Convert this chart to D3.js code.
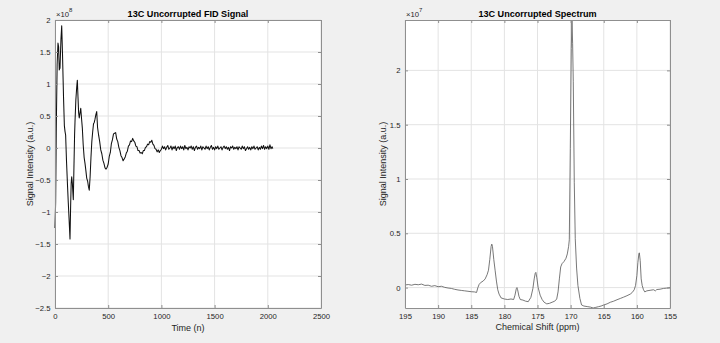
<!DOCTYPE html>
<html>
<head>
<meta charset="utf-8">
<script src="https://cdn.jsdelivr.net/npm/d3@7"></script>
<style>
  body { margin: 0; background: #f0f0f0; }
  svg { display: block; font-family: "Liberation Sans", Arial, sans-serif; }
</style>
</head>
<body>
<div id="chart"></div>
<script>
// FID signal, values in units of 1e8
// first part read point by point, the rest sampled every 10 points
var fidEarlyN = [0, 6, 12, 20, 28, 34, 40, 47, 56, 63, 70, 80, 88, 94, 100, 108, 118, 125, 132, 141,
  147, 152, 157, 163, 172, 178, 184, 188, 196, 204, 210, 216, 222, 228, 235, 242, 250, 257, 265, 274,
  282, 290, 298, 307, 314, 322, 330, 338, 346, 354, 362, 369, 376, 384, 392];
var fidEarlyV = [-1.25, -0.85, 0.3, 1.3, 1.64, 1.58, 1.22, 1.25, 1.7, 1.91, 1.5, 0.8, 0.35, 0.26, 0.2, -0.2, -0.6, -0.86, -1.1, -1.42,
  -0.9, -0.55, -0.45, -0.55, -0.81, -0.3, 0.2, 0.41, 0.75, 0.95, 1.06, 0.8, 0.55, 0.47, 0.55, 0.62, 0.45, 0.31, 0.05, -0.15,
  -0.24, -0.35, -0.47, -0.52, -0.6, -0.66, -0.45, -0.15, 0.1, 0.25, 0.38, 0.4, 0.45, 0.52, 0.57];
var fidTailStart = 400;
var fidTailStep = 10;
var fidTailV = [
  0.32, 0.20, 0.10, -0.03, -0.09, -0.19, -0.24, -0.31, -0.33, -0.30,
  -0.25, -0.13, -0.07, 0.07, 0.13, 0.22, 0.23, 0.24, 0.14, 0.10,
  0.01, -0.04, -0.12, -0.15, -0.20, -0.17, -0.14, -0.08, -0.05, 0.03,
  0.05, 0.11, 0.10, 0.15, 0.11, 0.09, 0.03, 0.02, -0.04, -0.04,
  -0.08, -0.07, -0.09, -0.04, -0.04, 0.01, 0.02, 0.06, 0.05, 0.10,
  0.09, 0.12, 0.06, 0.04, -0.01, -0.02, -0.06, -0.03, -0.07, -0.04,
  -0.02, 0.03, -0.01, 0.02, -0.03, 0.01, 0.04, -0.02, 0.00, 0.03,
  -0.03, 0.02, -0.01, 0.03, -0.04, 0.01, 0.02, -0.02, 0.03, -0.01,
  0.02, -0.03, 0.04, -0.01, 0.01, -0.03, 0.02, 0.00, 0.03, -0.02,
  0.02, -0.04, 0.01, 0.03, -0.02, 0.01, -0.01, 0.03, -0.03, 0.02,
  0.00, -0.02, 0.03, -0.01, 0.02, -0.03, 0.01, 0.04, -0.02, 0.01,
  -0.03, 0.02, -0.01, 0.03, -0.02, 0.00, 0.02, -0.03, 0.01, 0.03,
  -0.01, 0.02, -0.02, 0.01, -0.04, 0.02, 0.00, 0.03, -0.02, 0.01,
  -0.01, 0.02, -0.03, 0.02, 0.00, -0.02, 0.03, -0.01, 0.02, -0.04,
  -0.01, 0.02, -0.02, 0.01, -0.03, 0.02, -0.01, 0.03, -0.02, 0.00,
  0.02, -0.03, 0.01, -0.02, 0.03, -0.01, 0.04, -0.02, 0.02, -0.01,
  0.03, -0.02, 0.05, -0.01, 0.02];
var fidLastN = 2047;
var fidLastV = -0.01;

// spectrum, values in units of 1e7
var specPpm = [195.0, 194.5, 194.0, 193.5, 193.0, 192.5, 192.0, 191.5, 191.0, 190.5, 190.0, 189.5, 189.0, 188.5,
  188.0, 187.5, 187.0, 186.5, 186.0, 185.5, 185.0, 184.5, 184.2, 184.0, 183.8, 183.5, 183.2, 182.9, 182.6, 182.4,
  182.2, 182.0, 181.9, 181.8, 181.6, 181.4, 181.2, 181.0, 180.8, 180.5, 180.0, 179.5, 179.0, 178.6, 178.4, 178.2,
  178.1, 178.0, 177.8, 177.6, 177.2, 176.8, 176.4, 176.0, 175.7, 175.5, 175.35, 175.25, 175.1, 174.9, 174.6, 174.3,
  174.0, 173.6, 173.2, 172.8, 172.4, 172.1, 171.9, 171.7, 171.5, 171.3, 171.0, 170.7, 170.5, 170.3, 170.2, 170.05,
  169.9, 169.8, 169.7, 169.6, 169.45, 169.3, 169.1, 168.9, 168.6, 168.35, 168.0, 167.5, 167.0, 166.6, 166.2, 165.8,
  165.4, 165.0, 164.5, 164.0, 163.5, 163.0, 162.5, 162.0, 161.5, 161.0, 160.7, 160.4, 160.2, 160.0, 159.85, 159.7,
  159.63, 159.5, 159.35, 159.2, 159.0, 158.8, 158.5, 158.0, 157.5, 157.2, 157.0, 156.5, 156.0, 155.5, 155.0];
var specVal = [0.024, 0.028, 0.022, 0.030, 0.026, 0.032, 0.020, 0.022, 0.012, 0.018, 0.008, 0.012, 0.002, -0.004,
  -0.008, -0.016, -0.022, -0.026, -0.030, -0.034, -0.038, -0.040, -0.045, 0.000, 0.030, 0.050, 0.060, 0.080, 0.120, 0.160,
  0.260, 0.380, 0.400, 0.380, 0.260, 0.160, 0.060, -0.020, -0.060, -0.095, -0.105, -0.110, -0.105, -0.110, -0.070, -0.010,
  0.000, -0.020, -0.080, -0.110, -0.115, -0.125, -0.130, -0.090, -0.010, 0.080, 0.130, 0.140, 0.090, 0.000, -0.070, -0.110,
  -0.135, -0.150, -0.145, -0.135, -0.125, -0.105, -0.040, 0.080, 0.190, 0.220, 0.240, 0.270, 0.310, 0.380, 0.440, 1.280,
  2.200, 2.464, 2.250, 1.900, 0.970, 0.450, 0.180, 0.020, -0.100, -0.160, -0.170, -0.175, -0.180, -0.188, -0.182, -0.176,
  -0.170, -0.160, -0.150, -0.135, -0.125, -0.112, -0.100, -0.088, -0.075, -0.060, -0.045, -0.020, 0.020, 0.110, 0.230, 0.310,
  0.320, 0.250, 0.080, 0.020, -0.020, -0.040, -0.030, -0.025, -0.020, -0.030, -0.018, -0.015, -0.008, -0.005, 0.000];

var fidXTicks = [0, 500, 1000, 1500, 2000, 2500];
var fidYTicks = [-2.5, -2, -1.5, -1, -0.5, 0, 0.5, 1, 1.5, 2];
var specXTicks = [195, 190, 185, 180, 175, 170, 165, 160, 155];
var specYTicks = [0, 0.5, 1, 1.5, 2];

var width = 720, height = 343;
var svg = d3.select("#chart").append("svg")
  .attr("width", width)
  .attr("height", height);

svg.append("rect").attr("width", width).attr("height", height).attr("fill", "#f0f0f0");

function drawPanel(opt) {
  var x = d3.scaleLinear().domain(opt.xDomain).range([opt.left, opt.right]);
  var y = d3.scaleLinear().domain(opt.yDomain).range([opt.bottom, opt.top]);
  var g = svg.append("g");

  g.append("rect")
    .attr("x", opt.left).attr("y", opt.top)
    .attr("width", opt.right - opt.left).attr("height", opt.bottom - opt.top)
    .attr("fill", "#fff");

  // grid
  g.append("g").selectAll("line").data(opt.xTicks).enter().append("line")
    .attr("x1", function(d) { return x(d); }).attr("x2", function(d) { return x(d); })
    .attr("y1", opt.top).attr("y2", opt.bottom)
    .attr("stroke", "#e3e3e3").attr("stroke-width", 1);
  g.append("g").selectAll("line").data(opt.yTicks).enter().append("line")
    .attr("y1", function(d) { return y(d); }).attr("y2", function(d) { return y(d); })
    .attr("x1", opt.left).attr("x2", opt.right)
    .attr("stroke", "#e3e3e3").attr("stroke-width", 1);

  // data
  var line = d3.line()
    .x(function(d) { return x(d[0]); })
    .y(function(d) { return y(d[1]); });
  g.append("path")
    .datum(opt.data)
    .attr("d", line)
    .attr("fill", "none")
    .attr("stroke", opt.stroke)
    .attr("stroke-width", opt.strokeWidth)
    .attr("stroke-linejoin", "round");

  // axes with inward ticks on all four sides
  var fmt = function(d) { return d3.format("~g")(d); };
  var axB = g.append("g").attr("transform", "translate(0," + opt.bottom + ")")
    .call(d3.axisBottom(x).tickValues(opt.xTicks).tickSizeInner(-3).tickSizeOuter(0).tickPadding(6).tickFormat(fmt));
  var axT = g.append("g").attr("transform", "translate(0," + opt.top + ")")
    .call(d3.axisTop(x).tickValues(opt.xTicks).tickSizeInner(-3).tickSizeOuter(0).tickFormat(""));
  var axL = g.append("g").attr("transform", "translate(" + opt.left + ",0)")
    .call(d3.axisLeft(y).tickValues(opt.yTicks).tickSizeInner(-3).tickSizeOuter(0).tickPadding(4.5).tickFormat(fmt));
  var axR = g.append("g").attr("transform", "translate(" + opt.right + ",0)")
    .call(d3.axisRight(y).tickValues(opt.yTicks).tickSizeInner(-3).tickSizeOuter(0).tickFormat(""));
  [axB, axT, axL, axR].forEach(function(a) {
    a.select(".domain").attr("stroke", "#8f8f8f");
    a.selectAll(".tick line").attr("stroke", "#8f8f8f");
    a.selectAll("text").attr("fill", "#262626").style("font-size", "7.7px")
      .style("font-family", "'Liberation Sans', Arial, sans-serif");
  });

  var cx = (opt.left + opt.right) / 2;
  g.append("text").attr("x", cx).attr("y", 17)
    .attr("text-anchor", "middle").attr("font-weight", "bold")
    .attr("font-size", "9.1px").attr("fill", "#000").text(opt.title);
  g.append("text").attr("x", cx).attr("y", opt.xLabelY)
    .attr("text-anchor", "middle").attr("font-size", "9px").attr("fill", "#262626").text(opt.xLabel);
  g.append("text")
    .attr("transform", "translate(" + opt.yLabelX + "," + ((opt.top + opt.bottom) / 2) + ") rotate(-90)")
    .attr("text-anchor", "middle").attr("font-size", "9px").attr("fill", "#262626").text(opt.yLabel);

  var ex = g.append("text").attr("x", opt.left + 1).attr("y", 16.5)
    .attr("font-size", "7.7px").attr("fill", "#262626");
  ex.append("tspan").text("\u00d710");
  ex.append("tspan").attr("dy", -4.5).attr("font-size", "6px").text(opt.exponent);
}

var fidData = fidEarlyN.map(function(n, i) { return [n, fidEarlyV[i]]; })
  .concat(fidTailV.map(function(v, i) { return [fidTailStart + i * fidTailStep, v]; }))
  .concat([[fidLastN, fidLastV]]);

drawPanel({
  left: 55, right: 321, top: 20, bottom: 308,
  xDomain: [0, 2500], yDomain: [-2.5, 2],
  xTicks: fidXTicks, yTicks: fidYTicks,
  data: fidData, stroke: "#111", strokeWidth: 1.05,
  title: "13C Uncorrupted FID Signal", xLabel: "Time (n)", yLabel: "Signal Intensity (a.u.)",
  xLabelY: 330.5, yLabelX: 32.5, exponent: "8"
});

var specData = specPpm.map(function(p, i) { return [p, specVal[i]]; });
var specMin = d3.min(specVal), specMax = d3.max(specVal);

drawPanel({
  left: 405, right: 670, top: 20, bottom: 308,
  xDomain: [195, 155], yDomain: [specMin, specMax],
  xTicks: specXTicks, yTicks: specYTicks,
  data: specData, stroke: "#555", strokeWidth: 0.8,
  title: "13C Uncorrupted Spectrum", xLabel: "Chemical Shift (ppm)", yLabel: "Signal Intensity (a.u.)",
  xLabelY: 330, yLabelX: 385.5, exponent: "7"
});
</script>
</body>
</html>
